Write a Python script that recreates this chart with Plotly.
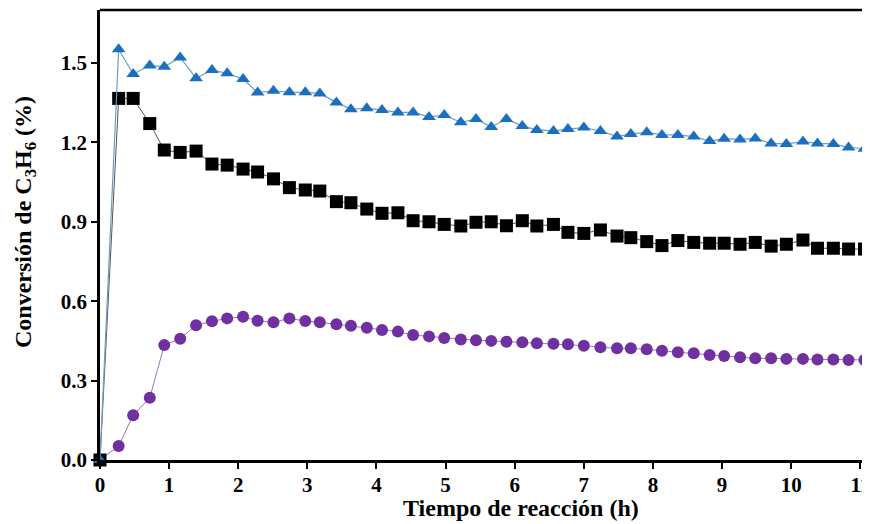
import plotly.graph_objects as go

# Reaction time (h)
time_h = [0, 0.27, 0.48, 0.72, 0.93, 1.16, 1.39, 1.62, 1.84, 2.07, 2.28, 2.51, 2.74,
          2.97, 3.18, 3.42, 3.63, 3.86, 4.08, 4.31, 4.53, 4.76, 4.98, 5.22, 5.44, 5.66,
          5.88, 6.11, 6.32, 6.56, 6.77,
          7.00, 7.24, 7.48, 7.68, 7.91, 8.13, 8.36, 8.59, 8.82, 9.03, 9.26, 9.48, 9.71,
          9.93, 10.17, 10.38, 10.61, 10.83, 11.06]

# Conversion of C3H6 (%)
conv_triangle = [0, 1.552, 1.458, 1.490, 1.486, 1.521, 1.442, 1.473, 1.461, 1.439, 1.388, 1.395, 1.389,
                 1.389, 1.385, 1.351, 1.325, 1.329, 1.322, 1.313, 1.313, 1.296, 1.303, 1.276, 1.288,
                 1.258, 1.288, 1.262, 1.247, 1.243, 1.250,
                 1.256, 1.243, 1.222, 1.232, 1.238, 1.228, 1.228, 1.222, 1.205, 1.214, 1.211, 1.215,
                 1.196, 1.194, 1.203, 1.196, 1.194, 1.181, 1.176]

conv_square = [0, 1.366, 1.366, 1.271, 1.171, 1.162, 1.167, 1.118, 1.114, 1.099, 1.088, 1.062, 1.029,
               1.020, 1.016, 0.976, 0.972, 0.948, 0.932, 0.934, 0.904, 0.900, 0.890, 0.884, 0.898,
               0.900, 0.885, 0.904, 0.884, 0.890, 0.860,
               0.856, 0.869, 0.846, 0.840, 0.825, 0.810, 0.829, 0.822, 0.819, 0.819, 0.815, 0.822,
               0.808, 0.815, 0.831, 0.800, 0.800, 0.797, 0.797]

conv_circle = [0, 0.053, 0.169, 0.235, 0.434, 0.458, 0.509, 0.524, 0.535, 0.541, 0.526, 0.520, 0.535,
               0.525, 0.520, 0.513, 0.507, 0.500, 0.491, 0.485, 0.472, 0.467, 0.461, 0.455, 0.452,
               0.450, 0.447, 0.445, 0.441, 0.439, 0.437,
               0.432, 0.426, 0.422, 0.422, 0.418, 0.413, 0.407, 0.403, 0.397, 0.393, 0.388, 0.384,
               0.384, 0.382, 0.382, 0.380, 0.380, 0.378, 0.378]

x_ticks = list(range(0, 12))
y_ticks = [0.0, 0.3, 0.6, 0.9, 1.2, 1.5]

FONT = "Times New Roman, Liberation Serif, serif"

fig = go.Figure()
fig.add_trace(go.Scatter(x=time_h, y=conv_circle, mode="lines+markers",
                         line=dict(color="#9C72C4", width=1),
                         marker=dict(symbol="circle", size=12, color="#7030A0"),
                         cliponaxis=False, showlegend=False))
fig.add_trace(go.Scatter(x=time_h, y=conv_square, mode="lines+markers",
                         line=dict(color="#555555", width=1),
                         marker=dict(symbol="square", size=13, color="#000000"),
                         cliponaxis=False, showlegend=False))
fig.add_trace(go.Scatter(x=time_h, y=conv_triangle, mode="lines+markers",
                         line=dict(color="#6E9CC4", width=1.2),
                         marker=dict(symbol="triangle-up", size=12, color="#1C6FC0"),
                         cliponaxis=False, showlegend=False))

fig.update_layout(
    width=862, height=516,
    margin=dict(l=92, r=0, t=2, b=64),
    paper_bgcolor="white", plot_bgcolor="white",
    xaxis=dict(range=[0, 11.14], tickmode="array", tickvals=x_ticks,
               ticktext=[f"<b>{v}</b>" for v in x_ticks],
               showgrid=False, zeroline=False, showline=True, linecolor="black", linewidth=2.5,
               ticks="outside", ticklen=6, tickwidth=2, tickcolor="black",
               ticklabeloverflow="allow", ticklabelstandoff=-2,
               tickfont=dict(family=FONT, size=21, color="black")),
    yaxis=dict(range=[0, 1.70], tickmode="array", tickvals=y_ticks,
               ticktext=[f"<b>{v:.1f}</b>" for v in y_ticks],
               showgrid=False, zeroline=False, showline=True, linecolor="black", linewidth=2.5,
               ticks="outside", ticklen=6, tickwidth=2, tickcolor="black",
               tickfont=dict(family=FONT, size=21, color="black")),
    shapes=[dict(type="line", xref="paper", yref="paper", x0=0, x1=1, y0=1, y1=1,
                 line=dict(color="black", width=2.5))],
    annotations=[
        dict(text="<b>Tiempo de reacción (h)</b>", xref="paper", yref="paper",
             x=(521 - 100) / 770, y=-48 / 450, xanchor="center", yanchor="middle", showarrow=False,
             font=dict(family=FONT, size=24, color="black")),
        dict(text="<b>Conversión de C<sub>3</sub>H<sub>6</sub> (%)</b>", xref="paper", yref="paper",
             x=-75 / 770, y=(460 - 222) / 450, xanchor="center", yanchor="middle", showarrow=False,
             textangle=-90, font=dict(family=FONT, size=24, color="black")),
    ],
)

fig.write_html("out.html")
